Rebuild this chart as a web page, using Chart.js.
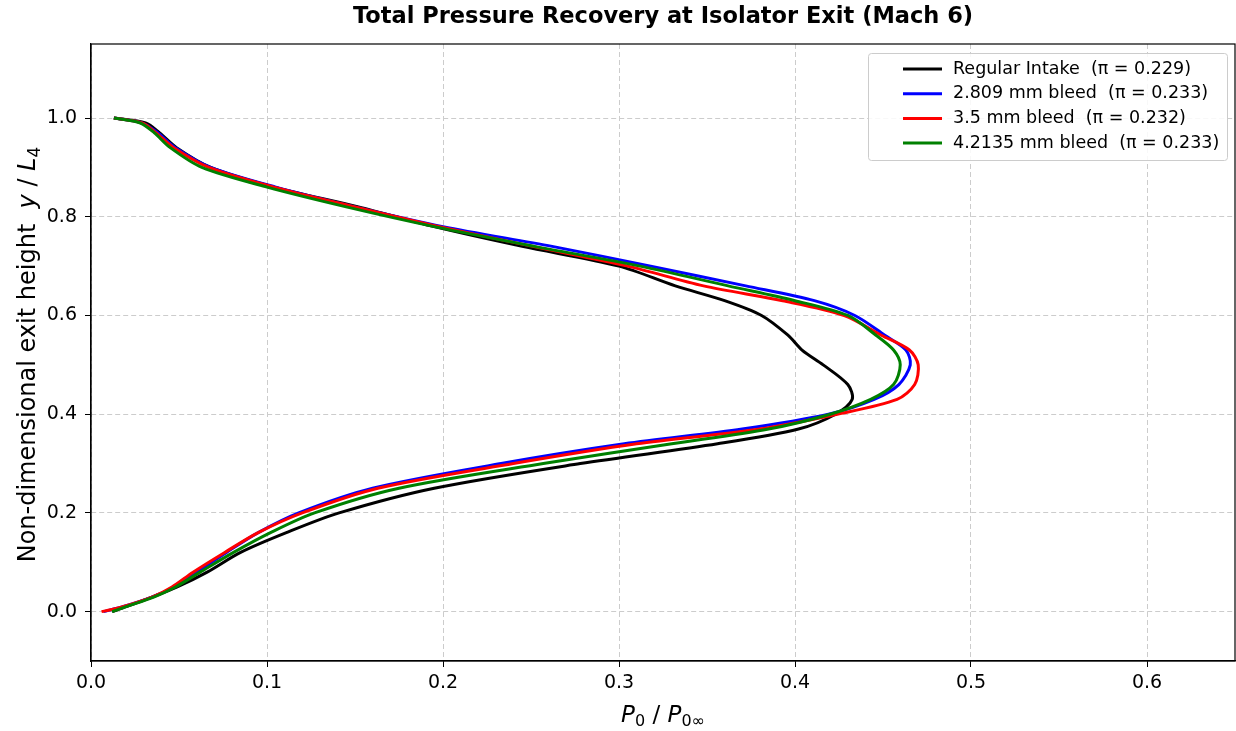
<!DOCTYPE html>
<html>
<head>
<meta charset="utf-8">
<script src="https://cdn.jsdelivr.net/npm/chart.js@4.4.1/dist/chart.umd.min.js"></script>
<style>
  html, body { margin: 0; padding: 0; background: #fff; }
  #wrap { width: 1236px; height: 731px; }
</style>
</head>
<body>
<div id="wrap"><canvas id="chart"></canvas></div>
<script>
const yLevels = [0, 0.01, 0.03, 0.05, 0.08, 0.12, 0.16, 0.20, 0.25, 0.30, 0.34, 0.37, 0.40, 0.43, 0.46,
  0.50, 0.53, 0.56, 0.60, 0.63, 0.66, 0.70, 0.74, 0.78, 0.82, 0.86, 0.90, 0.94, 0.97, 0.99, 1.0];

// P0 / P0inf at each level
const xRegular = [0.012, 0.020, 0.035, 0.049, 0.066, 0.085, 0.111, 0.141, 0.195, 0.278, 0.356, 0.402, 0.423, 0.4325, 0.430,
  0.416, 0.404, 0.396, 0.381, 0.360, 0.332, 0.300, 0.245, 0.195, 0.152, 0.104, 0.068, 0.0486, 0.039, 0.031, 0.013];
const xBleed2809 = [0.007, 0.018, 0.035, 0.047, 0.060, 0.077, 0.095, 0.118, 0.160, 0.233, 0.303, 0.370, 0.419, 0.445, 0.459,
  0.4655, 0.463, 0.451, 0.434, 0.411, 0.372, 0.318, 0.262, 0.200, 0.150, 0.105, 0.068, 0.048, 0.038, 0.029, 0.013];
const xBleed35 = [0.006, 0.018, 0.035, 0.046, 0.058, 0.076, 0.095, 0.120, 0.163, 0.240, 0.310, 0.380, 0.424, 0.458, 0.468,
  0.470, 0.465, 0.449, 0.428, 0.393, 0.348, 0.305, 0.251, 0.198, 0.150, 0.104, 0.067, 0.047, 0.037, 0.029, 0.013];
const xBleed42135 = [0.012, 0.020, 0.036, 0.048, 0.062, 0.081, 0.102, 0.127, 0.175, 0.257, 0.330, 0.385, 0.420, 0.443, 0.456,
  0.4598, 0.456, 0.446, 0.430, 0.400, 0.362, 0.312, 0.252, 0.195, 0.145, 0.100, 0.063, 0.045, 0.036, 0.028, 0.013];

const seriesLabels = ['Regular Intake  (\u03c0 = 0.229)', '2.809 mm bleed  (\u03c0 = 0.233)',
  '3.5 mm bleed  (\u03c0 = 0.232)', '4.2135 mm bleed  (\u03c0 = 0.233)'];
const seriesColors = ['#000000', '#0000ff', '#ff0000', '#008000'];
const xTicks = [0, 0.1, 0.2, 0.3, 0.4, 0.5, 0.6];
const yTicks = [0, 0.2, 0.4, 0.6, 0.8, 1.0];
const chartTitle = 'Total Pressure Recovery at Isolator Exit (Mach 6)';

const FONT = "'DejaVu Sans', sans-serif";
const toPoints = xs => xs.map((x, i) => ({ x: x, y: yLevels[i] }));

const makeSet = (xs, i) => ({
  label: seriesLabels[i],
  data: toPoints(xs),
  borderColor: seriesColors[i],
  backgroundColor: seriesColors[i],
  borderWidth: 3,
  showLine: true,
  pointRadius: 0,
  tension: 0.3,
  order: 4 - i
});

// frame, title, legend and the math-style axis titles
const extras = {
  id: 'extras',
  afterDraw(chart) {
    const ctx = chart.ctx;
    const a = chart.chartArea;
    const midX = (a.left + a.right) / 2;
    ctx.save();
    ctx.strokeStyle = '#000';
    ctx.lineWidth = 1.2;
    ctx.strokeRect(a.left, a.top, a.right - a.left, a.bottom - a.top);

    // title, centred over the plot area
    ctx.fillStyle = '#000';
    ctx.font = 'bold 22.5px ' + FONT;
    ctx.textAlign = 'center';
    ctx.textBaseline = 'middle';
    ctx.fillText(chartTitle, midX, 17);

    // legend box
    const bx = 868, by = 53, bw = 359, bh = 107;
    ctx.fillStyle = 'rgba(255,255,255,0.85)';
    ctx.strokeStyle = '#cccccc';
    ctx.lineWidth = 1;
    ctx.beginPath();
    ctx.roundRect(bx + 0.5, by + 0.5, bw, bh, 3);
    ctx.fill();
    ctx.stroke();
    ctx.font = '17.5px ' + FONT;
    ctx.textAlign = 'left';
    chart.data.datasets.forEach((ds, i) => {
      const yy = 69 + i * 24.7;
      ctx.strokeStyle = ds.borderColor;
      ctx.lineWidth = 3;
      ctx.beginPath();
      ctx.moveTo(903, yy);
      ctx.lineTo(942, yy);
      ctx.stroke();
      ctx.fillStyle = '#000';
      ctx.fillText(ds.label, 953, yy);
    });

    const drawRuns = (runs, cx, cy) => {
      let total = 0;
      runs.forEach(r => { ctx.font = r.f; total += ctx.measureText(r.t).width; });
      let x = cx - total / 2;
      runs.forEach(r => {
        ctx.font = r.f;
        ctx.fillText(r.t, x, cy + (r.dy || 0));
        x += ctx.measureText(r.t).width;
      });
    };
    ctx.fillStyle = '#000';
    ctx.textBaseline = 'alphabetic';

    // x title: P0 / P0inf
    const it = 'italic 23px ' + FONT, rg = '23px ' + FONT, sb = '16px ' + FONT;
    drawRuns([
      { t: 'P', f: it }, { t: '0', f: sb, dy: 4 }, { t: ' / ', f: rg },
      { t: 'P', f: it }, { t: '0\u221e', f: sb, dy: 4 }
    ], midX, 722);

    // y title
    ctx.translate(35, (a.top + a.bottom) / 2 + 2);
    ctx.rotate(-Math.PI / 2);
    const rg2 = '24px ' + FONT, it2 = 'italic 24px ' + FONT, sb2 = '17px ' + FONT;
    drawRuns([
      { t: 'Non-dimensional exit height  ', f: rg2 }, { t: 'y', f: it2 }, { t: ' / ', f: rg2 },
      { t: 'L', f: it2 }, { t: '4', f: sb2, dy: 5 }
    ], 0, 0);
    ctx.restore();
  }
};

const gridOpts = {
  color: '#cccccc',
  tickColor: '#000',
  tickBorderDash: [],
  tickLength: 6
};

new Chart(document.getElementById('chart'), {
  type: 'scatter',
  data: {
    datasets: [
      makeSet(xRegular, 0),
      makeSet(xBleed2809, 1),
      makeSet(xBleed35, 2),
      makeSet(xBleed42135, 3)
    ]
  },
  options: {
    responsive: true,
    maintainAspectRatio: false,
    animation: false,
    layout: { padding: { left: 0, right: 1, top: 44, bottom: 0 } },
    plugins: {
      legend: { display: false },
      tooltip: { enabled: false },
      title: { display: false }
    },
    scales: {
      x: {
        type: 'linear',
        min: 0,
        max: 0.65,
        afterBuildTicks: s => { s.ticks = xTicks.map(v => ({ value: v })); },
        afterFit: s => { s.height = 70; },
        ticks: {
          color: '#000',
          font: { family: FONT, size: 19 },
          padding: 5,
          callback: v => v.toFixed(1)
        },
        grid: gridOpts,
        border: { color: '#000', width: 1.2, dash: [5, 3] }
      },
      y: {
        type: 'linear',
        min: -0.1,
        max: 1.15,
        afterBuildTicks: s => { s.ticks = yTicks.map(v => ({ value: v })); },
        afterFit: s => { s.width = 91; },
        ticks: {
          color: '#000',
          font: { family: FONT, size: 19 },
          padding: 8,
          callback: v => v.toFixed(1)
        },
        grid: gridOpts,
        border: { color: '#000', width: 1.2, dash: [5, 3] }
      }
    }
  },
  plugins: [extras]
});
</script>
</body>
</html>
